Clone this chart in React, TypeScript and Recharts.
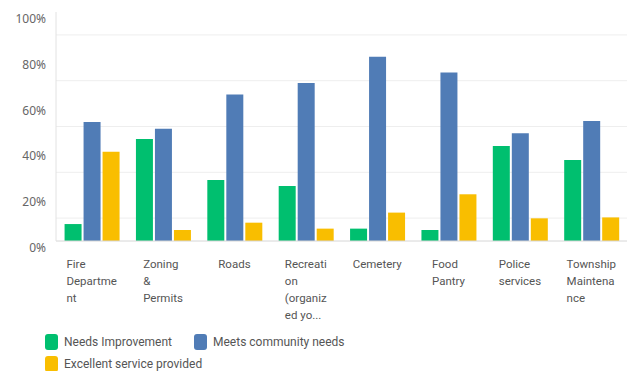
import { Bar, BarChart, CartesianGrid, Legend, XAxis, YAxis } from "recharts";

const CATEGORIES = ["Fire Department", "Zoning & Permits", "Roads", "Recreation (organized yo...", "Cemetery", "Food Pantry", "Police services", "Township Maintenance"];
const TICK_LINES = [
  ["Fire", "Departme", "nt"],
  ["Zoning", "&", "Permits"],
  ["Roads"],
  ["Recreati", "on", "(organiz", "ed yo..."],
  ["Cemetery"],
  ["Food", "Pantry"],
  ["Police", "services"],
  ["Township", "Maintena", "nce"],
];
const NEEDS_IMPROVEMENT = [7.4, 44.5, 26.6, 24, 5.4, 4.8, 41.5, 35.4];
const MEETS_NEEDS = [52, 49, 64, 69, 80.5, 73.6, 47, 52.4];
const EXCELLENT = [39, 4.8, 8, 5.4, 12.4, 20.4, 9.9, 10.3];
const Y_TICKS = [0, 20, 40, 60, 80, 100];
const GRID_VALUES = [10, 20, 30, 40, 50, 60, 70, 80, 90];

const SERIES = [
  { key: "needs", name: "Needs Improvement", color: "#00BF6F" },
  { key: "meets", name: "Meets community needs", color: "#507CB6" },
  { key: "excellent", name: "Excellent service provided", color: "#F9BE00" },
];

const LABEL_FONT = "Roboto, sans-serif";
const AXIS_FONT = "'Noto Sans', sans-serif";
const TICK_FONT_SIZE = 11.5;

let measureCtx: CanvasRenderingContext2D | null = null;
function textWidth(text: string) {
  if (!measureCtx) {
    measureCtx = document.createElement("canvas").getContext("2d");
  }
  if (!measureCtx) return text.length * 6;
  measureCtx.font = `${TICK_FONT_SIZE}px Roboto`;
  return measureCtx.measureText(text).width;
}

function CategoryTick({ x, y, index }: { x?: number; y?: number; index?: number }) {
  const lines = TICK_LINES[index ?? 0] ?? [];
  const blockWidth = Math.max(...lines.map(textWidth));
  const left = (x ?? 0) - blockWidth / 2;
  return (
    <text x={left} y={(y ?? 0) + 19} fill="#555" fontSize={TICK_FONT_SIZE} fontFamily={LABEL_FONT} textAnchor="start">
      {lines.map((line, i) => (
        <tspan key={i} x={left} dy={i === 0 ? 0 : 17}>
          {line}
        </tspan>
      ))}
    </text>
  );
}

function PercentTick({ x, y, payload }: { x?: number; y?: number; payload?: { value: number } }) {
  return (
    <text x={(x ?? 0) - 2} y={(y ?? 0) + 11} fill="#666" fontSize={12} fontFamily={AXIS_FONT} textAnchor="end">
      {`${payload?.value ?? 0}%`}
    </text>
  );
}

function SurveyLegend() {
  return (
    <div style={{ display: "flex", flexWrap: "wrap", width: 420, paddingLeft: 45, paddingTop: 2, fontFamily: LABEL_FONT, fontSize: 12, color: "#555" }}>
      {SERIES.map((s) => (
        <div key={s.key} style={{ display: "flex", alignItems: "center", marginRight: 22, height: 22 }}>
          <span style={{ width: 13, height: 16, borderRadius: 3, background: s.color, marginRight: 6, display: "inline-block" }} />
          <span>{s.name}</span>
        </div>
      ))}
    </div>
  );
}

export default function App() {
  const data = CATEGORIES.map((name, i) => ({
    name,
    needs: NEEDS_IMPROVEMENT[i],
    meets: MEETS_NEEDS[i],
    excellent: EXCELLENT[i],
  }));

  return (
    <div style={{ position: "absolute", left: 0, top: 0, width: 639, height: 371, background: "#fff" }}>
      <BarChart width={639} height={371} data={data} margin={{ top: 12, right: 12, left: 0, bottom: 0 }} barCategoryGap="12%" barGap={2}>
        <CartesianGrid horizontal vertical={false} stroke="#eeeeee" horizontalValues={GRID_VALUES} />
        <XAxis dataKey="name" interval={0} height={88} tickLine={false} axisLine={{ stroke: "#d6d6d6" }} tick={<CategoryTick />} />
        <YAxis domain={[0, 100]} ticks={Y_TICKS} width={56} tickLine={false} axisLine={{ stroke: "#e2e2e2" }} tick={<PercentTick />} />
        <Legend verticalAlign="bottom" align="left" height={42} content={<SurveyLegend />} />
        {SERIES.map((s) => (
          <Bar key={s.key} dataKey={s.key} name={s.name} fill={s.color} isAnimationActive={false} />
        ))}
      </BarChart>
    </div>
  );
}
